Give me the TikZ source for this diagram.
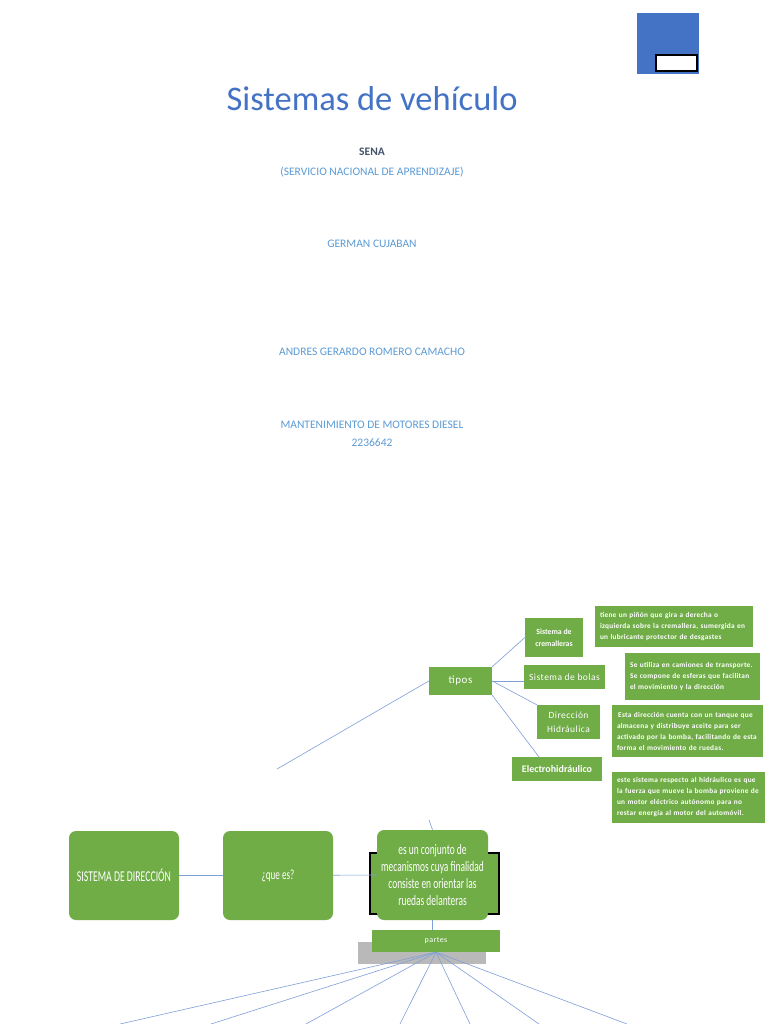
\documentclass[tikz,border=0pt]{standalone}
\usepackage{fontspec}
\setmainfont{Carlito}
\newfontfamily\narrowfont[FakeStretch=0.65]{Carlito}
\newfontfamily\spacedfont[LetterSpace=5]{Carlito}
\newfontfamily\notefont[LetterSpace=4]{Carlito}
\usetikzlibrary{calc}
\definecolor{boxgreen}{HTML}{70AD47}
\definecolor{titleblue}{HTML}{4472C4}
\definecolor{softblue}{HTML}{5B9BD5}
\definecolor{darkslate}{HTML}{44546A}
\definecolor{linkblue}{HTML}{7F9FD8}
\tikzset{
  greenbox/.style={fill=boxgreen, text=white, inner sep=2pt, align=center},
  bigbox/.style={greenbox, rounded corners=7pt, minimum width=110pt, minimum height=89pt},
  tipobox/.style={greenbox, font=\spacedfont\fontsize{9.5}{14}\selectfont},
  notebox/.style={greenbox, align=left, inner xsep=5pt, inner ysep=2pt, font=\notefont\bfseries\fontsize{7.3}{11}\selectfont},
  coverline/.style={font=\fontsize{11.5}{14}\selectfont, text=softblue},
  link/.style={draw=linkblue, line width=0.6pt}
}
\begin{document}
\begin{tikzpicture}[x=1pt,y=-1pt]
\useasboundingbox (0,0) rectangle (768,1024);
\fill[white] (0,0) rectangle (768,1024);

% portada
\fill[titleblue] (637,13) rectangle (699,74);
\draw[black, line width=1.2pt, fill=white] (656,55) rectangle (697,71);

\node[font=\fontsize{34.5}{40}\selectfont, text=titleblue] (titulo) at (372,99) {Sistemas de vehículo};
\node[font=\bfseries\fontsize{11.5}{14}\selectfont, text=darkslate] (sena) at (372,152) {SENA};
\node[coverline] (servicio) at (372,172) {(SERVICIO NACIONAL DE APRENDIZAJE)};
\node[coverline] (profesor) at (372,244) {GERMAN CUJABAN};
\node[coverline] (aprendiz) at (372,352) {ANDRES GERARDO ROMERO CAMACHO};
\node[coverline] (programa) at (372,425) {MANTENIMIENTO DE MOTORES DIESEL};
\node[coverline] (ficha) at (372,443) {2236642};

% mapa conceptual
\coordinate (SubL) at (277,769);
\coordinate (Stub) at (429,820);

\draw[black, line width=1.1pt, fill=boxgreen] (370,853) rectangle (499,914);
\fill[gray!55] (358,942) rectangle (486,964);

\node[bigbox, font=\narrowfont\fontsize{15}{17}\selectfont] (sistema) at (124,875.5) {SISTEMA DE DIRECCIÓN};
\node[bigbox, font=\narrowfont\fontsize{14}{17}\selectfont] (quees) at (278,875.5) {\raisebox{-9pt}{¿que es?}};
\node[bigbox, minimum width=111pt, minimum height=90pt, font=\narrowfont\fontsize{14.5}{16.7}\selectfont] (defin) at (432.5,875)
  {es un conjunto de\\ mecanismos cuya finalidad\\ consiste en orientar las\\ ruedas delanteras};
\node[greenbox, minimum width=128pt, minimum height=22pt, font=\spacedfont\fontsize{8}{10}\selectfont] (partes) at (436,941) {partes};

\node[greenbox, minimum width=63pt, minimum height=28pt, font=\spacedfont\fontsize{11}{13}\selectfont] (tipos) at (460.5,681) {tipos};
\node[greenbox, minimum width=58pt, minimum height=39pt, font=\bfseries\fontsize{7.8}{12}\selectfont] (crem) at (554,637.5) {Sistema de\\ cremalleras};
\node[tipobox, minimum width=81pt, minimum height=24pt] (bolas) at (564.5,677) {Sistema de bolas};
\node[tipobox, minimum width=63pt, minimum height=34pt] (hidra) at (568.5,722) {Dirección\\ Hidráulica};
\node[greenbox, minimum width=90pt, minimum height=24pt, font=\bfseries\fontsize{10}{12}\selectfont] (electro) at (557,769) {Electrohidráulico};

\node[notebox, text width=148pt, minimum height=41pt] (notacrem) at (674,626.5)
  {tiene un piñón que gira a derecha o\\ izquierda sobre la cremallera, sumergida en\\ un lubricante protector de desgastes};
\node[notebox, text width=125pt, minimum height=47pt] (notabolas) at (692.5,676.5)
  {Se utiliza en camiones de transporte.\\ Se compone de esferas que facilitan\\ el movimiento y la dirección\\[3pt]};
\node[notebox, text width=141pt, minimum height=52pt] (notahidra) at (687.5,731)
  {\,Esta dirección cuenta con un tanque que\\ almacena y distribuye aceite para ser\\ activado por la bomba, facilitando de esta\\ forma el movimiento de ruedas.};
\node[notebox, text width=143pt, minimum height=51pt] (notaelectro) at (688.5,797.5)
  {este sistema respecto al hidráulico es que\\ la fuerza que mueve la bomba proviene de\\ un motor eléctrico autónomo para no\\ restar energía al motor del automóvil.};

% conectores
\draw[link] (sistema) -- (quees);
\draw[link] (quees) -- (defin.west);
\draw[link] (defin.north) -- (Stub);
\draw[link] (defin.south) -- (partes.north -| defin.south);
\draw[link] (tipos.west) -- (SubL);
\draw[link] (tipos.north east) -- (crem.west);
\draw[link] (tipos.east) -- (tipos.east -| bolas.west);
\draw[link] (tipos.east) -- (hidra.north west);
\draw[link] (tipos.south east) -- ($(electro.north west)!0.3!(electro.north east)$);

\foreach \x/\n in {120/a, 211/b, 306/c, 400/d, 470/e, 539/f, 627/g}
{
  \coordinate (Parte\n) at (\x,1024);
  \draw[link] (partes.south) -- (Parte\n);
};
\end{tikzpicture}
\end{document}
